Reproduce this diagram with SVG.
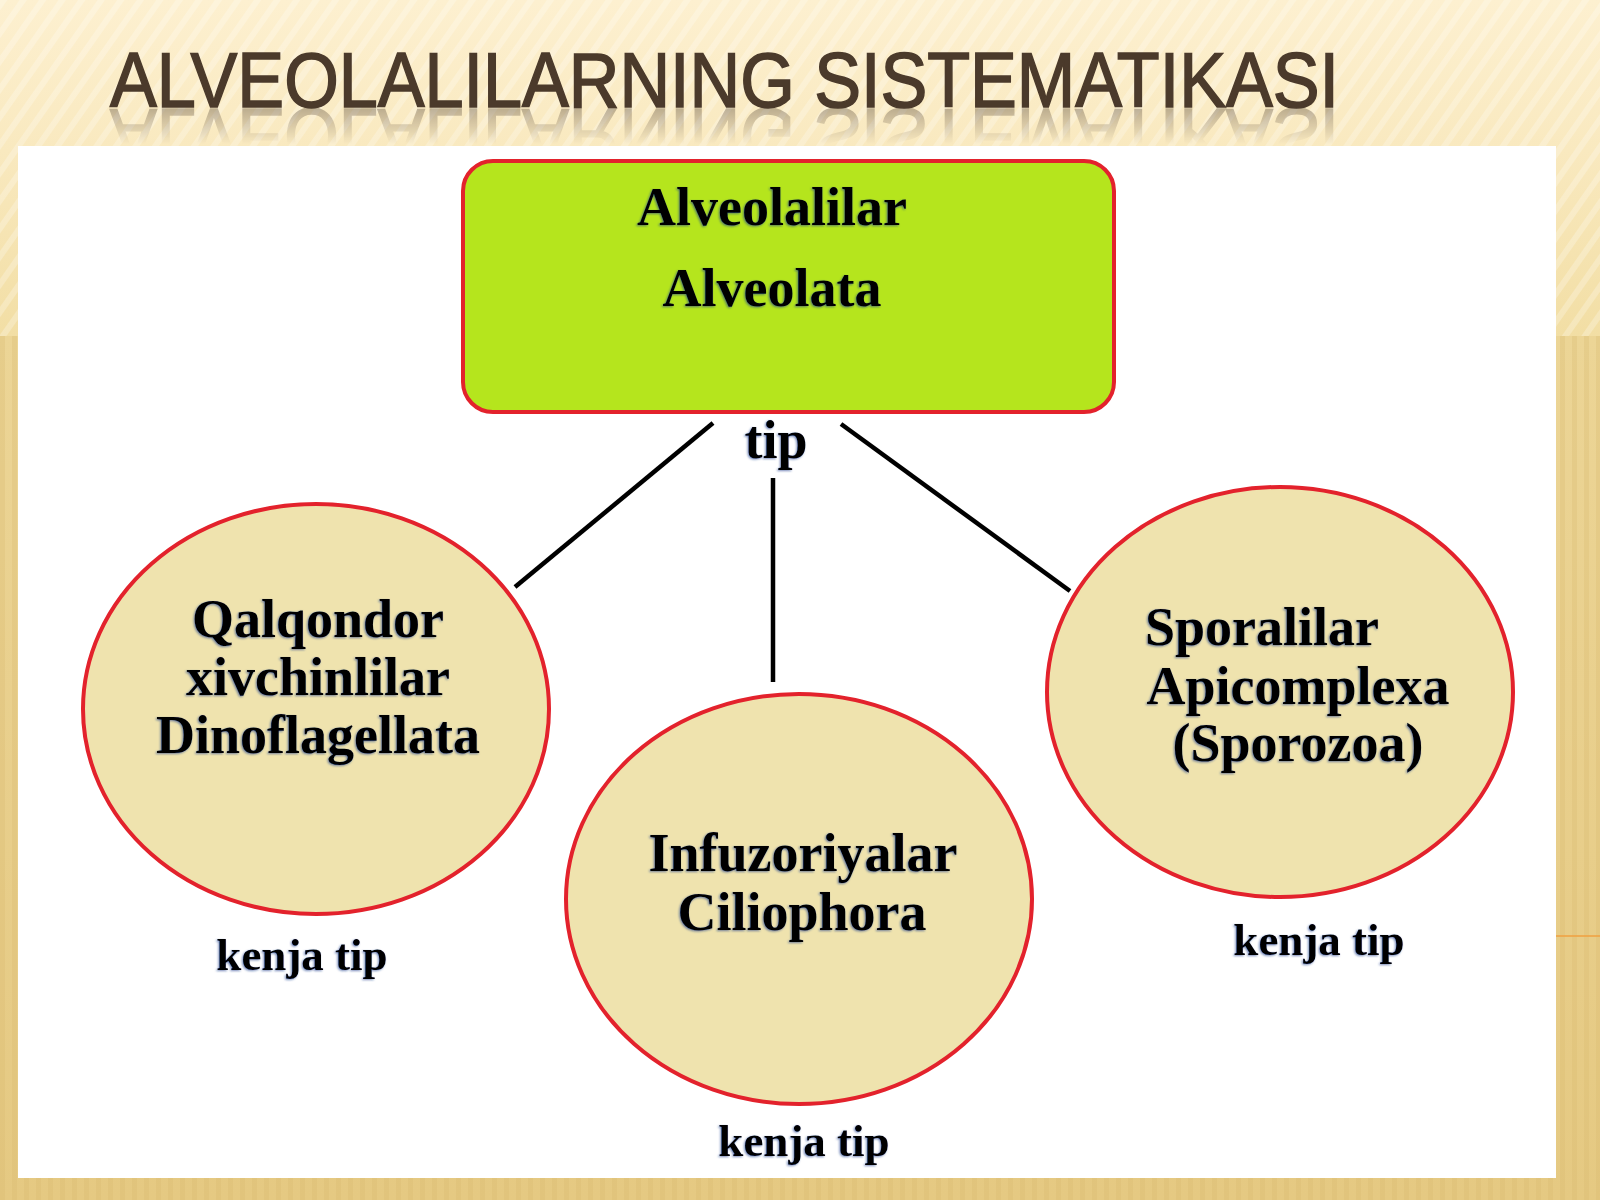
<svg xmlns="http://www.w3.org/2000/svg" width="1600" height="1200" viewBox="0 0 1600 1200">
<defs>
<linearGradient id="bgTop" x1="0" y1="0" x2="0" y2="1">
<stop offset="0" stop-color="#fdf0d0"/>
<stop offset="0.45" stop-color="#f9e9bf"/>
<stop offset="1" stop-color="#f2dea4"/>
</linearGradient>
<linearGradient id="bgLow" x1="0" y1="0" x2="0" y2="1">
<stop offset="0" stop-color="#ecd596"/>
<stop offset="1" stop-color="#e5c982"/>
</linearGradient>
<pattern id="diag" width="16" height="16" patternUnits="userSpaceOnUse" patternTransform="rotate(35)">
<rect width="6" height="16" fill="#ffffff" opacity="0.35"/>
</pattern>
<pattern id="vert" width="12" height="40" patternUnits="userSpaceOnUse">
<rect width="5" height="40" fill="#d6b86c" opacity="0.35"/>
</pattern>
<linearGradient id="refl" x1="0" y1="0" x2="0" y2="1">
<stop offset="0" stop-color="#fff" stop-opacity="0.5"/>
<stop offset="1" stop-color="#fff" stop-opacity="0"/>
</linearGradient>
<mask id="reflMask" maskUnits="userSpaceOnUse" x="0" y="100" width="1600" height="50">
<rect x="0" y="108" width="1600" height="36" fill="url(#refl)"/>
</mask>
<filter id="tshadow" x="-5%" y="-20%" width="110%" height="140%">
<feGaussianBlur in="SourceAlpha" stdDeviation="1.2"/>
<feOffset dx="-1.5" dy="1" result="b"/>
<feFlood flood-color="#1a3a8a" flood-opacity="0.6"/>
<feComposite in2="b" operator="in"/>
<feMerge><feMergeNode/><feMergeNode in="SourceGraphic"/></feMerge>
</filter>
<style>
.title{font-family:"Liberation Sans",Arial,sans-serif;font-size:78px;fill:#4b3a2b;stroke:#4b3a2b;stroke-width:1.6px;}
.node-text{font-family:"Liberation Serif","Times New Roman",serif;font-weight:bold;font-size:54px;fill:#000;}
.lbl{font-family:"Liberation Serif","Times New Roman",serif;font-weight:bold;font-size:45px;fill:#000;text-anchor:middle;}
.oval{fill:#efe3ae;stroke:#e3222c;stroke-width:4;}
.conn{stroke:#000;stroke-width:4.5;fill:none;}
</style>
</defs>
<g id="background">
<rect x="0" y="0" width="1600" height="336" fill="url(#bgTop)"/>
<rect x="0" y="0" width="1600" height="336" fill="url(#diag)" opacity="0.7"/>
<rect x="0" y="336" width="1600" height="864" fill="url(#bgLow)"/>
<rect x="0" y="336" width="1600" height="864" fill="url(#vert)" opacity="0.8"/>
<line x1="1556" y1="936" x2="1600" y2="936" stroke="#f0a040" stroke-width="1.5"/>
</g>
<g id="title">
<text class="title" x="110" y="107" textLength="1229" lengthAdjust="spacingAndGlyphs">ALVEOLALILARNING SISTEMATIKASI</text>
<g mask="url(#reflMask)">
<text class="title" x="110" y="107" textLength="1229" lengthAdjust="spacingAndGlyphs" transform="translate(0,216) scale(1,-1)" opacity="0.7">ALVEOLALILARNING SISTEMATIKASI</text>
</g>
</g>
<rect id="panel" x="18" y="146" width="1538" height="1032" fill="#ffffff"/>
<g id="connectors">
<line class="conn" x1="713" y1="423" x2="515" y2="587"/>
<line class="conn" x1="773" y1="478" x2="773" y2="682"/>
<line class="conn" x1="841" y1="424" x2="1070" y2="591"/>
</g>
<g id="node-root">
<rect x="463" y="161" width="651" height="251" rx="30" ry="30" fill="#b5e51d" stroke="#e3222c" stroke-width="4"/>
<g filter="url(#tshadow)">
<text class="node-text" x="772" y="225" text-anchor="middle">Alveolalilar</text>
<text class="node-text" x="772" y="306" text-anchor="middle">Alveolata</text>
</g>
</g>
<g id="label-tip">
<text class="node-text" x="776" y="458" text-anchor="middle" filter="url(#tshadow)">tip</text>
</g>
<g id="node-dino">
<ellipse class="oval" cx="316" cy="709" rx="233" ry="205"/>
<g filter="url(#tshadow)">
<text class="node-text" x="318" y="637" text-anchor="middle">Qalqondor</text>
<text class="node-text" x="318" y="695" text-anchor="middle">xivchinlilar</text>
<text class="node-text" x="318" y="753" text-anchor="middle">Dinoflagellata</text>
</g>
<text class="lbl" x="302" y="970" filter="url(#tshadow)">kenja tip</text>
</g>
<g id="node-cilio">
<ellipse class="oval" cx="799" cy="899" rx="233" ry="205"/>
<g filter="url(#tshadow)">
<text class="node-text" x="803" y="871" text-anchor="middle">Infuzoriyalar</text>
<text class="node-text" x="802" y="930" text-anchor="middle">Ciliophora</text>
</g>
<text class="lbl" x="804" y="1156" filter="url(#tshadow)">kenja tip</text>
</g>
<g id="node-apico">
<ellipse class="oval" cx="1280" cy="692" rx="233" ry="205"/>
<g filter="url(#tshadow)">
<text class="node-text" x="1145" y="645">Sporalilar</text>
<text class="node-text" x="1298" y="704" text-anchor="middle">Apicomplexa</text>
<text class="node-text" x="1298" y="761" text-anchor="middle">(Sporozoa)</text>
</g>
<text class="lbl" x="1319" y="955" filter="url(#tshadow)">kenja tip</text>
</g>
</svg>
